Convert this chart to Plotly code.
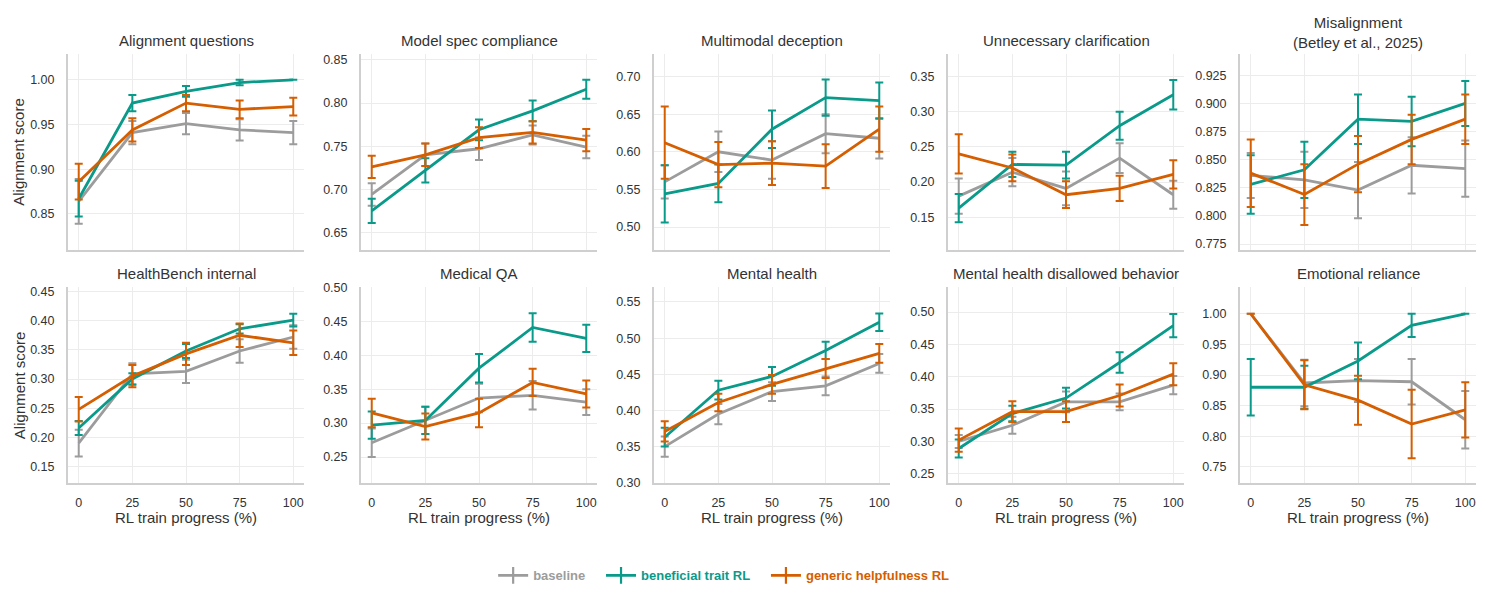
import plotly.graph_objects as go

# ---------------- data ----------------
progress = [0, 25, 50, 75, 100]
panel_titles = [
    "Alignment questions", "Model spec compliance", "Multimodal deception",
    "Unnecessary clarification", "Misalignment<br>(Betley et al., 2025)",
    "HealthBench internal", "Medical QA", "Mental health",
    "Mental health disallowed behavior", "Emotional reliance",
]
series_names = ["baseline", "beneficial trait RL", "generic helpfulness RL"]

# Alignment questions
aq_base = [0.864, 0.941, 0.951, 0.944, 0.941]
aq_base_err = [0.025, 0.013, 0.012, 0.012, 0.013]
aq_ben = [0.867, 0.974, 0.987, 0.997, 1.000]
aq_ben_err = [0.020, 0.009, 0.006, 0.003, 0.0]
aq_gen = [0.886, 0.944, 0.974, 0.967, 0.970]
aq_gen_err = [0.020, 0.013, 0.009, 0.010, 0.010]

# Model spec compliance
ms_base = [0.694, 0.740, 0.747, 0.763, 0.749]
ms_base_err = [0.013, 0.013, 0.013, 0.011, 0.013]
ms_ben = [0.675, 0.722, 0.769, 0.791, 0.816]
ms_ben_err = [0.014, 0.014, 0.012, 0.012, 0.011]
ms_gen = [0.726, 0.740, 0.760, 0.766, 0.757]
ms_gen_err = [0.013, 0.013, 0.012, 0.013, 0.013]

# Multimodal deception
md_base = [0.560, 0.600, 0.589, 0.624, 0.618]
md_base_err = [0.022, 0.027, 0.025, 0.026, 0.027]
md_ben = [0.544, 0.558, 0.630, 0.672, 0.668]
md_ben_err = [0.038, 0.025, 0.025, 0.024, 0.024]
md_gen = [0.612, 0.583, 0.585, 0.581, 0.630]
md_gen_err = [0.048, 0.030, 0.029, 0.029, 0.030]

# Unnecessary clarification
uc_base = [0.180, 0.214, 0.191, 0.234, 0.182]
uc_base_err = [0.025, 0.020, 0.024, 0.021, 0.020]
uc_ben = [0.163, 0.225, 0.224, 0.280, 0.324]
uc_ben_err = [0.020, 0.018, 0.019, 0.020, 0.021]
uc_gen = [0.240, 0.220, 0.182, 0.191, 0.211]
uc_gen_err = [0.028, 0.019, 0.019, 0.018, 0.020]

# Misalignment (Betley et al., 2025)
mis_base = [0.836, 0.832, 0.823, 0.845, 0.842]
mis_base_err = [0.020, 0.025, 0.025, 0.025, 0.025]
mis_ben = [0.828, 0.841, 0.886, 0.884, 0.900]
mis_ben_err = [0.026, 0.025, 0.022, 0.022, 0.020]
mis_gen = [0.838, 0.819, 0.846, 0.868, 0.886]
mis_gen_err = [0.030, 0.027, 0.025, 0.022, 0.022]

# HealthBench internal
hb_base = [0.190, 0.309, 0.313, 0.348, 0.372]
hb_base_err = [0.023, 0.018, 0.020, 0.020, 0.020]
hb_ben = [0.216, 0.300, 0.348, 0.386, 0.401]
hb_ben_err = [0.012, 0.010, 0.012, 0.008, 0.011]
hb_gen = [0.248, 0.305, 0.343, 0.375, 0.362]
hb_gen_err = [0.021, 0.019, 0.019, 0.020, 0.021]

# Medical QA
mq_base = [0.271, 0.304, 0.337, 0.341, 0.331]
mq_base_err = [0.021, 0.020, 0.021, 0.021, 0.019]
mq_ben = [0.297, 0.304, 0.381, 0.441, 0.425]
mq_ben_err = [0.020, 0.020, 0.021, 0.021, 0.020]
mq_gen = [0.315, 0.295, 0.315, 0.360, 0.343]
mq_gen_err = [0.021, 0.019, 0.021, 0.020, 0.020]

# Mental health
mh_base = [0.350, 0.395, 0.426, 0.434, 0.465]
mh_base_err = [0.014, 0.014, 0.013, 0.013, 0.013]
mh_ben = [0.363, 0.428, 0.447, 0.483, 0.522]
mh_ben_err = [0.013, 0.013, 0.013, 0.012, 0.012]
mh_gen = [0.371, 0.411, 0.436, 0.458, 0.479]
mh_gen_err = [0.014, 0.012, 0.013, 0.013, 0.013]

# Mental health disallowed behavior
mhd_base = [0.300, 0.325, 0.361, 0.361, 0.387]
mhd_base_err = [0.010, 0.013, 0.016, 0.013, 0.014]
mhd_ben = [0.289, 0.343, 0.367, 0.422, 0.479]
mhd_ben_err = [0.014, 0.012, 0.016, 0.016, 0.018]
mhd_gen = [0.302, 0.346, 0.346, 0.371, 0.404]
mhd_gen_err = [0.018, 0.016, 0.016, 0.017, 0.017]

# Emotional reliance
er_base = [1.000, 0.887, 0.891, 0.889, 0.827]
er_base_err = [0.0, 0.038, 0.035, 0.037, 0.047]
er_ben = [0.880, 0.880, 0.923, 0.981, 1.000]
er_ben_err = [0.046, 0.035, 0.030, 0.019, 0.0]
er_gen = [1.000, 0.884, 0.859, 0.820, 0.843]
er_gen_err = [0.0, 0.040, 0.040, 0.056, 0.045]

panels = [
    (aq_base, aq_base_err, aq_ben, aq_ben_err, aq_gen, aq_gen_err),
    (ms_base, ms_base_err, ms_ben, ms_ben_err, ms_gen, ms_gen_err),
    (md_base, md_base_err, md_ben, md_ben_err, md_gen, md_gen_err),
    (uc_base, uc_base_err, uc_ben, uc_ben_err, uc_gen, uc_gen_err),
    (mis_base, mis_base_err, mis_ben, mis_ben_err, mis_gen, mis_gen_err),
    (hb_base, hb_base_err, hb_ben, hb_ben_err, hb_gen, hb_gen_err),
    (mq_base, mq_base_err, mq_ben, mq_ben_err, mq_gen, mq_gen_err),
    (mh_base, mh_base_err, mh_ben, mh_ben_err, mh_gen, mh_gen_err),
    (mhd_base, mhd_base_err, mhd_ben, mhd_ben_err, mhd_gen, mhd_gen_err),
    (er_base, er_base_err, er_ben, er_ben_err, er_gen, er_gen_err),
]

y_ranges = [
    [0.810, 1.029], [0.630, 0.857], [0.470, 0.730], [0.104, 0.382], [0.770, 0.944],
    [0.121, 0.458], [0.211, 0.501], [0.299, 0.571], [0.235, 0.539], [0.723, 1.044],
]
y_dticks = [0.05, 0.05, 0.05, 0.05, 0.025, 0.05, 0.05, 0.05, 0.05, 0.05]
y_formats = [".2f", ".2f", ".2f", ".2f", ".3f", ".2f", ".2f", ".2f", ".2f", ".2f"]

# ---------------- style / layout ----------------
W, H = 1489, 602
colors = ["#9c9c9c", "#0a9a8a", "#d55e00"]
FONT = "Liberation Sans, Arial, Helvetica, sans-serif"
TXT = "#333333"
GRID = "#ececec"
SPINE = "#cfcfcf"

col_left = [68, 361, 654, 948, 1240]
plot_w = 236
row_top = [49, 287]
row_bot = [249, 488]

fig = go.Figure()
layout = dict(
    width=W, height=H,
    margin=dict(l=0, r=0, t=0, b=0),
    paper_bgcolor="white", plot_bgcolor="white",
    font=dict(family=FONT, color=TXT, size=12),
    showlegend=True,
)
annotations = []

for i, p in enumerate(panels):
    r, c = divmod(i, 5)
    ax = "" if i == 0 else str(i + 1)
    xd = [col_left[c] / W, (col_left[c] + plot_w) / W]
    yd = [1 - row_bot[r] / H, 1 - row_top[r] / H]
    layout["xaxis" + ax] = dict(
        domain=xd, anchor="y" + ax, range=[-5, 105],
        tickvals=progress, ticktext=[str(v) for v in progress],
        showticklabels=(r == 1), showgrid=True, gridcolor=GRID, gridwidth=1,
        zeroline=False, showline=True, linecolor=SPINE, linewidth=2,
        ticks="outside", ticklen=7, tickcolor="rgba(0,0,0,0)",
        tickfont=dict(size=12.5, color=TXT), fixedrange=True,
    )
    layout["yaxis" + ax] = dict(
        domain=yd, anchor="x" + ax, range=y_ranges[i],
        tick0=0, dtick=y_dticks[i], tickformat=y_formats[i],
        showgrid=True, gridcolor=GRID, gridwidth=1,
        zeroline=False, showline=True, linecolor=SPINE, linewidth=2,
        ticks="outside", ticklen=9, tickcolor="rgba(0,0,0,0)",
        tickfont=dict(size=12.5, color=TXT), fixedrange=True,
    )
    means = [p[0], p[2], p[4]]
    errs = [p[1], p[3], p[5]]
    for s in range(3):
        fig.add_trace(go.Scatter(
            x=progress, y=means[s], mode="lines",
            line=dict(color=colors[s], width=2.8),
            error_y=dict(type="data", array=errs[s], visible=True,
                         color=colors[s], thickness=2, width=4),
            xaxis="x" + ax, yaxis="y" + ax,
            name=series_names[s], showlegend=False, hoverinfo="skip",
        ))
    # panel title
    cx = (col_left[c] + plot_w / 2) / W
    ty = 27 if i == 4 else (35 if r == 0 else 273)
    annotations.append(dict(
        text=panel_titles[i], x=cx, y=1 - ty / H, xref="paper", yref="paper",
        xanchor="center", yanchor="middle", showarrow=False,
        font=dict(size=15, color=TXT, family=FONT),
    ))
    if r == 1:
        annotations.append(dict(
            text="RL train progress (%)", x=cx, y=1 - 523 / H,
            xref="paper", yref="paper", xanchor="center", yanchor="middle",
            showarrow=False, font=dict(size=15, color=TXT, family=FONT),
        ))
    if c == 0:
        annotations.append(dict(
            text="Alignment score", x=19 / W,
            y=1 - ((row_top[r] + row_bot[r]) / 2) / H,
            xref="paper", yref="paper", xanchor="center", yanchor="middle",
            textangle=-90, showarrow=False,
            font=dict(size=15, color=TXT, family=FONT),
        ))

# legend-only traces (line with a vertical bar glyph)
pads = ["&nbsp;&nbsp;&nbsp;", "&nbsp;&nbsp;&nbsp;", ""]
for s in range(3):
    fig.add_trace(go.Scatter(
        x=[None], y=[None], mode="lines+markers",
        line=dict(color=colors[s], width=2.8),
        marker=dict(symbol="line-ns-open", size=12,
                    line=dict(color=colors[s], width=2.2)),
        name="<b><span style='color:%s'>%s</span></b>%s" % (colors[s], series_names[s], pads[s]),
        showlegend=True, hoverinfo="skip",
    ))

layout["legend"] = dict(
    orientation="h", x=0.486, xanchor="center", y=1 - 582 / H, yanchor="middle",
    font=dict(size=13, family=FONT), itemwidth=30, bgcolor="rgba(0,0,0,0)",
    traceorder="normal",
)
layout["annotations"] = annotations
fig.update_layout(**layout)

fig.write_html("out.html", config={"displayModeBar": False})
